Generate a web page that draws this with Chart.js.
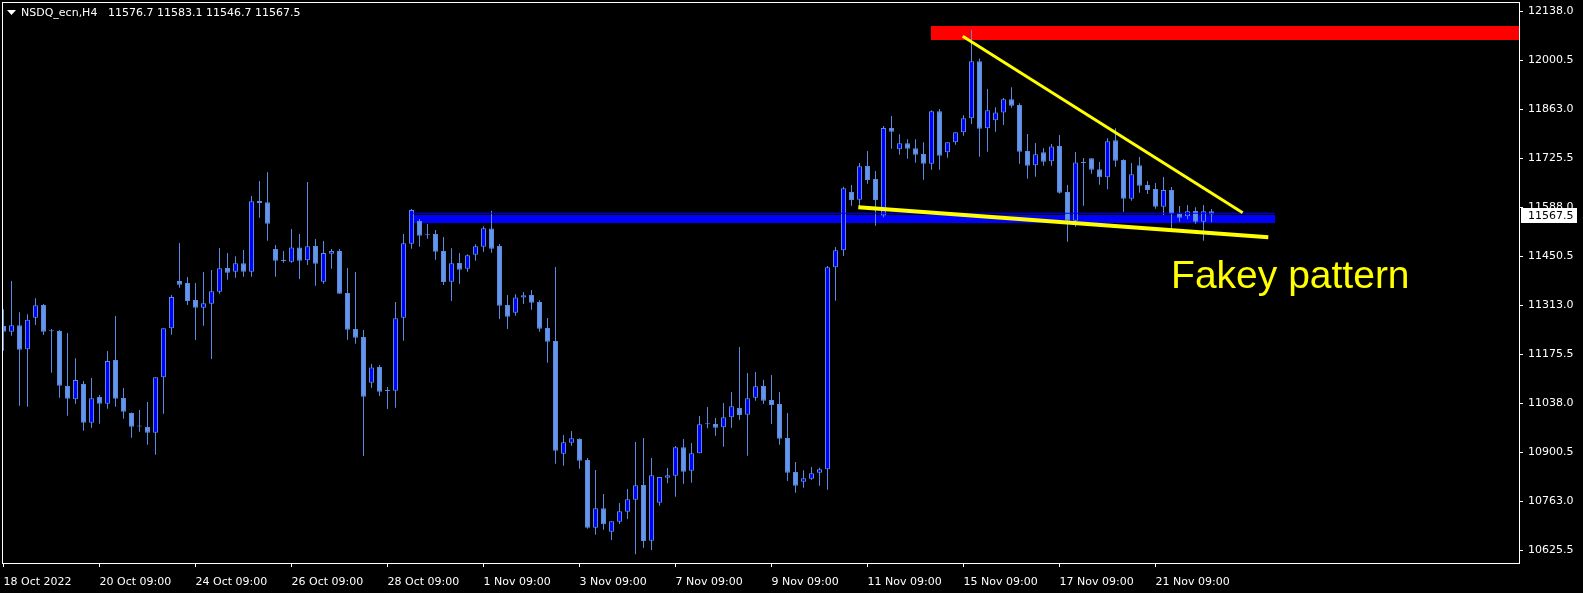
<!DOCTYPE html>
<html>
<head>
<meta charset="utf-8">
<script src="https://cdn.jsdelivr.net/npm/chart.js@4.4.1/dist/chart.umd.min.js"></script>
<style>
  html, body { margin: 0; padding: 0; background: #000; }
  canvas { display: block; }
</style>
</head>
<body>
<canvas id="chart" width="1583" height="593"></canvas>
<script>
var symbol = 'NSDQ_ecn,H4';

// H4 candles, 18 Oct 2022 09:00 .. 22 Nov 2022
var opens = [
  11254.6, 11238.7, 11256.5, 11189.2, 11278.0, 11313.6, 11240.6, 11240.6, 11086.3, 11048.9,
  11091.9, 10983.4, 11055.4, 11036.7, 11159.2, 11052.6, 11010.5, 10973.1, 10971.2, 10955.3,
  11110.6, 11248.1, 11380.9, 11375.3, 11327.6, 11306.1, 11317.3, 11351.0, 11417.4, 11407.1,
  11430.5, 11407.1, 11605.4, 11601.6, 11470.7, 11440.7, 11435.1, 11475.3, 11438.9, 11479.1,
  11379.0, 11457.6, 11465.1, 11347.2, 11246.2, 11223.8, 11095.6, 11139.6, 11073.2, 11073.2,
  11278.0, 11485.6, 11549.2, 11511.0, 11512.8, 11465.1, 11379.0, 11431.4, 11415.5, 11454.8,
  11477.2, 11528.6, 11479.1, 11313.5, 11292.0, 11335.0, 11341.6, 11322.0, 11249.0, 11212.5,
  10896.4, 10927.2, 10937.5, 10878.6, 10688.7, 10743.0, 10677.6, 10705.7, 10733.7, 10767.4,
  10808.6, 10652.3, 10759.0, 10829.1, 10834.7, 10914.2, 10848.8, 10897.4, 10979.5, 10979.7,
  10970.4, 10998.4, 11024.6, 11005.9, 11053.6, 11086.3, 11047.0, 11035.8, 10940.4, 10845.0,
  10817.9, 10826.3, 10843.1, 10852.5, 11419.3, 11467.0, 11630.7, 11609.1, 11703.6, 11667.1,
  11565.0, 11810.2, 11750.3, 11767.2, 11753.2, 11737.3, 11710.1, 11857.0, 11741.9, 11770.0,
  11798.0, 11837.3, 11997.3, 11809.3, 11831.7, 11854.1, 11890.6, 11874.7, 11745.7, 11705.4,
  11741.9, 11716.7, 11759.7, 11630.6, 11550.2, 11713.0, 11725.1, 11694.3, 11671.8, 11775.6,
  11720.5, 11612.0, 11705.5, 11650.3, 11639.1, 11589.5, 11636.3, 11570.8, 11562.4, 11577.4,
  11547.4, 11576.7
];
var highs = [
  11301.4, 11380.9, 11293.0, 11287.4, 11332.3, 11316.4, 11246.2, 11243.4, 11235.0, 11163.9,
  11100.3, 11108.7, 11061.0, 11184.5, 11282.7, 11080.7, 11012.0, 11018.9, 11041.4, 11110.6,
  11248.1, 11341.6, 11487.5, 11392.1, 11375.3, 11406.1, 11411.7, 11473.5, 11459.4, 11450.1,
  11467.9, 11619.4, 11661.5, 11685.8, 11481.9, 11465.1, 11526.8, 11512.8, 11658.7, 11498.7,
  11493.1, 11470.7, 11470.7, 11417.4, 11406.1, 11243.4, 11148.0, 11145.2, 11083.5, 11322.0,
  11512.8, 11582.9, 11555.0, 11540.8, 11524.0, 11504.3, 11472.6, 11459.5, 11455.7, 11483.8,
  11534.3, 11578.0, 11484.7, 11341.6, 11343.5, 11350.0, 11355.6, 11326.6, 11277.1, 11420.2,
  10948.8, 10960.0, 10939.4, 10884.2, 10850.6, 10783.2, 10706.6, 10758.0, 10797.3, 10929.2,
  10940.4, 10884.3, 10831.0, 10856.3, 10918.0, 10937.6, 10926.4, 11002.2, 11027.4, 10996.5,
  11038.6, 11069.5, 11195.7, 11122.8, 11125.6, 11104.1, 11117.2, 11069.5, 11010.5, 10873.0,
  10849.7, 10859.0, 10857.2, 11423.0, 11476.3, 11645.6, 11650.3, 11712.0, 11745.7, 11689.6,
  11815.8, 11843.9, 11792.4, 11778.4, 11778.4, 11770.0, 11859.8, 11863.5, 11770.0, 11798.0,
  11845.8, 12086.1, 12005.0, 11919.6, 11868.2, 11894.4, 11924.3, 11879.4, 11793.3, 11768.1,
  11753.1, 11765.3, 11790.6, 11650.3, 11742.9, 11726.0, 11725.1, 11714.9, 11781.3, 11809.3,
  11722.3, 11712.0, 11728.9, 11661.5, 11655.9, 11672.8, 11644.7, 11591.4, 11594.2, 11587.6,
  11594.2, 11583.1
];
var lows = [
  11185.4, 11227.5, 11031.1, 11028.3, 11257.4, 11229.4, 11123.7, 11053.5, 11003.0, 11036.7,
  10960.9, 10969.4, 10980.6, 11022.7, 11028.3, 10994.6, 10941.3, 10958.1, 10921.7, 10893.6,
  11008.6, 11230.3, 11362.2, 11313.6, 11215.3, 11255.6, 11162.0, 11345.3, 11384.6, 11390.2,
  11393.0, 11393.0, 11558.6, 11494.1, 11393.0, 11432.3, 11432.3, 11386.5, 11425.8, 11367.8,
  11373.4, 11415.5, 11345.3, 11216.3, 11205.0, 10890.0, 11081.6, 11058.2, 11021.7, 11025.5,
  11213.5, 11471.6, 11477.2, 11499.7, 11440.8, 11369.7, 11324.8, 11373.4, 11407.1, 11438.0,
  11463.2, 11460.4, 11274.2, 11246.2, 11283.6, 11316.3, 11300.4, 11238.7, 11151.7, 10868.3,
  10862.7, 10918.8, 10854.3, 10685.9, 10669.1, 10683.1, 10654.2, 10699.1, 10713.1, 10614.0,
  10632.7, 10626.2, 10750.6, 10813.2, 10775.8, 10812.3, 10815.1, 10897.4, 10967.6, 10947.0,
  10916.1, 10969.4, 10991.8, 10890.8, 11045.2, 11035.8, 10979.7, 10921.7, 10819.7, 10787.0,
  10801.0, 10823.5, 10806.6, 10795.4, 11325.7, 11451.1, 11592.3, 11590.4, 11654.0, 11536.2,
  11559.6, 11752.2, 11735.4, 11724.2, 11712.9, 11665.2, 11693.3, 11693.3, 11727.0, 11763.4,
  11788.7, 11821.4, 11729.8, 11743.8, 11799.9, 11818.6, 11867.2, 11710.1, 11668.0, 11673.6,
  11704.5, 11704.5, 11625.9, 11491.2, 11533.3, 11592.3, 11682.1, 11651.3, 11638.2, 11701.8,
  11575.5, 11606.4, 11628.8, 11625.1, 11583.9, 11566.1, 11525.9, 11547.4, 11554.0, 11541.8,
  11494.1, 11546.7
];
var closes = [
  11238.7, 11256.5, 11188.2, 11272.4, 11312.6, 11238.7, 11239.7, 11087.2, 11050.7, 11103.1,
  10983.4, 11051.7, 11036.7, 11156.4, 11050.7, 11014.3, 10972.2, 10972.6, 10955.3, 11110.6,
  11248.1, 11336.0, 11370.6, 11324.8, 11306.1, 11318.2, 11351.9, 11416.4, 11404.3, 11430.5,
  11407.1, 11604.4, 11599.7, 11541.8, 11437.9, 11436.1, 11475.3, 11437.9, 11478.2, 11429.5,
  11459.4, 11465.1, 11345.3, 11244.3, 11221.9, 11056.3, 11138.6, 11070.4, 11072.5, 11276.1,
  11486.6, 11580.1, 11508.1, 11509.0, 11463.2, 11378.1, 11430.5, 11412.7, 11452.9, 11478.2,
  11528.7, 11471.6, 11311.7, 11280.8, 11335.0, 11340.7, 11320.1, 11247.1, 11210.7, 10904.8,
  10928.2, 10939.4, 10876.7, 10688.7, 10743.0, 10698.1, 10706.6, 10734.7, 10768.3, 10807.6,
  10651.4, 10835.7, 10831.0, 10835.7, 10914.2, 10846.0, 10897.4, 10978.8, 10978.8, 10969.4,
  10998.4, 11029.3, 11004.9, 11051.7, 11085.4, 11045.2, 11033.0, 10938.5, 10843.1, 10806.6,
  10827.2, 10841.3, 10852.5, 11419.3, 11467.0, 11640.9, 11608.2, 11702.7, 11664.3, 11608.2,
  11810.2, 11799.9, 11767.2, 11752.2, 11735.4, 11710.1, 11857.0, 11732.6, 11770.0, 11798.0,
  11837.3, 11997.3, 11808.3, 11859.8, 11854.1, 11890.6, 11872.9, 11743.8, 11704.5, 11736.3,
  11715.7, 11758.7, 11628.7, 11550.0, 11713.8, 11712.0, 11693.3, 11671.8, 11772.8, 11718.6,
  11612.0, 11680.3, 11648.5, 11636.3, 11589.5, 11636.3, 11569.0, 11558.7, 11576.4, 11547.4,
  11576.4, 11567.5
];

var tickIndex = [0, 12, 24, 36, 48, 60, 72, 84, 96, 108, 120, 132, 144];
var tickLabels = ['18 Oct 2022', '20 Oct 09:00', '24 Oct 09:00', '26 Oct 09:00', '28 Oct 09:00',
  '1 Nov 09:00', '3 Nov 09:00', '7 Nov 09:00', '9 Nov 09:00', '11 Nov 09:00',
  '15 Nov 09:00', '17 Nov 09:00', '21 Nov 09:00'];
var priceTicks = [12138.0, 12000.5, 11863.0, 11725.5, 11588.0, 11450.5, 11313.0,
  11175.5, 11038.0, 10900.5, 10763.0, 10625.5];

// objects drawn on the chart (bar index, price)
var redZone = [115.9, 12097.0, 12057.0];
var supportZone = [51.2, 158.9, 11566.0, 11544.6];
var supportLine = [[51.2, 11571.0], [158.9, 11571.0]];
var upperTrend = [[119.9, 12067.6], [154.9, 11572.6]];
var lowerTrend = [[106.85, 11587.7], [158.1, 11503.6]];
var noteText = 'Fakey pattern';
var notePos = [145.95, 11361.0];

var bullFill = '#0000ff';
var bearFill = '#6495ed';
var wickColor = '#5a8ae0';

var wickData = highs.map(function (h, i) { return { x: i, y: [lows[i], h] }; });
var bodyData = opens.map(function (o, i) {
  return { x: i, y: [Math.min(o, closes[i]), Math.max(o, closes[i])] };
});
var bodyColors = opens.map(function (o, i) { return closes[i] > o ? bullFill : bearFill; });

function pts(a) { return a.map(function (p) { return { x: p[0], y: p[1] }; }); }

var overlay = {
  id: 'overlay',
  beforeDatasetsDraw: function (chart) {
    var ctx = chart.ctx, a = chart.chartArea, x = chart.scales.x, y = chart.scales.y;
    ctx.save();
    ctx.beginPath();
    ctx.rect(a.left, a.top, a.right - a.left, a.bottom - a.top);
    ctx.clip();
    // red resistance zone, open to the right
    var x0 = Math.round(x.getPixelForValue(redZone[0]));
    var y0 = Math.round(y.getPixelForValue(redZone[1]));
    var y1 = Math.round(y.getPixelForValue(redZone[2]));
    ctx.fillStyle = '#ff0000';
    ctx.fillRect(x0, y0, a.right + 1 - x0, y1 - y0);
    // blue support zone
    x0 = Math.round(x.getPixelForValue(supportZone[0]));
    var x1 = Math.round(x.getPixelForValue(supportZone[1]));
    y0 = Math.round(y.getPixelForValue(supportZone[2]));
    y1 = Math.round(y.getPixelForValue(supportZone[3]));
    ctx.fillStyle = '#0000ff';
    ctx.fillRect(x0, y0, x1 - x0, y1 - y0);
    ctx.restore();
  },
  afterDatasetsDraw: function (chart) {
    var ctx = chart.ctx, x = chart.scales.x, y = chart.scales.y;
    ctx.save();
    ctx.fillStyle = '#ffff00';
    ctx.font = '39px "Liberation Sans"';
    ctx.textAlign = 'left';
    ctx.textBaseline = 'alphabetic';
    ctx.fillText(noteText, x.getPixelForValue(notePos[0]), y.getPixelForValue(notePos[1]));
    ctx.restore();
  },
  afterDraw: function (chart) {
    var ctx = chart.ctx, a = chart.chartArea, y = chart.scales.y;
    ctx.save();
    // frame
    ctx.strokeStyle = '#ffffff';
    ctx.lineWidth = 1;
    ctx.strokeRect(a.left + 0.5, a.top + 0.5, a.right - a.left, a.bottom - a.top);
    // header
    ctx.fillStyle = '#ffffff';
    ctx.beginPath();
    ctx.moveTo(7, 10); ctx.lineTo(16, 10); ctx.lineTo(11.5, 15); ctx.closePath();
    ctx.fill();
    ctx.font = '11px "DejaVu Sans"';
    ctx.textBaseline = 'middle';
    ctx.textAlign = 'left';
    ctx.fillText(symbol, 21, 13);
    var last = opens.length - 1;
    ctx.fillText([opens[last], highs[last], lows[last], closes[last]].map(function (v) {
      return v.toFixed(1);
    }).join(' '), 108, 13);
    // last price marker
    var py = Math.round(y.getPixelForValue(closes[last]));
    ctx.fillRect(a.right + 2, py - 7, 56, 15);
    ctx.fillStyle = '#000000';
    ctx.fillText(closes[last].toFixed(1), a.right + 9, py + 1);
    ctx.restore();
  }
};

Chart.defaults.font.family = '"DejaVu Sans"';
Chart.defaults.font.size = 11;

new Chart(document.getElementById('chart').getContext('2d'), {
  type: 'bar',
  data: {
    datasets: [
      {
        type: 'line', data: pts(upperTrend), borderColor: '#ffff00', borderWidth: 3,
        pointRadius: 0, order: 0
      },
      {
        type: 'line', data: pts(lowerTrend), borderColor: '#ffff00', borderWidth: 4,
        pointRadius: 0, order: 0
      },
      {
        type: 'line', data: pts(supportLine), borderColor: '#0000ff', borderWidth: 1,
        pointRadius: 0, order: 0
      },
      {
        data: bodyData, backgroundColor: bodyColors, borderColor: wickColor, borderWidth: 1,
        borderSkipped: false, barThickness: 5, minBarLength: 1, inflateAmount: 0,
        grouped: false, order: 1
      },
      {
        data: wickData, backgroundColor: wickColor, borderWidth: 0, barThickness: 1,
        inflateAmount: 0, grouped: false, order: 2
      }
    ]
  },
  plugins: [overlay],
  options: {
    responsive: false,
    animation: false,
    layout: { padding: { left: 2, top: 2, right: 0, bottom: 0 } },
    plugins: { legend: { display: false }, tooltip: { enabled: false } },
    scales: {
      x: {
        type: 'linear',
        offset: false,
        min: -0.1875,
        max: 189.4375,
        afterBuildTicks: function (s) { s.ticks = tickIndex.map(function (v) { return { value: v }; }); },
        afterFit: function (s) { s.height = 30; s.paddingLeft = 0; s.paddingRight = 0; },
        ticks: {
          color: '#ffffff', align: 'start', padding: 9, autoSkip: false,
          maxRotation: 0, minRotation: 0,
          callback: function (v, i) { return tickLabels[i]; }
        },
        grid: { drawOnChartArea: false, drawTicks: true, tickLength: 4, color: '#ffffff', offset: false },
        border: { display: false }
      },
      y: {
        type: 'linear',
        position: 'right',
        min: 10589.7,
        max: 12163.8,
        afterBuildTicks: function (s) { s.ticks = priceTicks.map(function (v) { return { value: v }; }); },
        afterFit: function (s) { s.width = 64; s.paddingTop = 0; s.paddingBottom = 0; },
        ticks: {
          color: '#ffffff', padding: 5, autoSkip: false,
          callback: function (v) { return v.toFixed(1); }
        },
        grid: { drawOnChartArea: false, drawTicks: true, tickLength: 4, color: '#ffffff' },
        border: { display: false }
      }
    }
  }
});
</script>
</body>
</html>
